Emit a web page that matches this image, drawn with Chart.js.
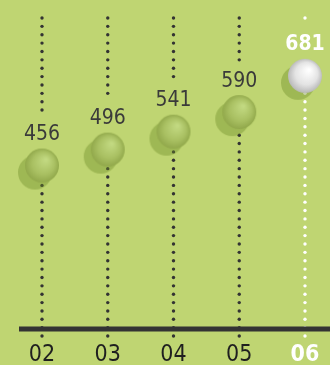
<!DOCTYPE html>
<html>
<head>
<meta charset="utf-8">
<script src="https://cdn.jsdelivr.net/npm/chart.js@4/dist/chart.umd.min.js"></script>
<style>
	html, body { margin: 0; padding: 0; background: #bfd572; }
	#wrap { width: 330px; height: 365px; position: relative; }
</style>
</head>
<body>
<div id="wrap"><canvas id="chartPreview"></canvas></div>
<script>
	const categories = ['02', '03', '04', '05', '06'];
	const values = [456, 496, 541, 590, 681];
	const yRange = [46, 826];
	const highlight = categories.length - 1;

	const FONT = "'DejaVu Sans Condensed', 'DejaVu Sans', sans-serif";

	// sphere with a soft shadow down-left, used as point image
	const makeBall = function (light, mid, dark) {
		const c = document.createElement('canvas');
		c.width = 56;
		c.height = 56;
		const g = c.getContext('2d');
		g.fillStyle = 'rgba(110, 140, 40, 0.4)';
		g.beginPath();
		g.arc(21, 35, 17, 0, Math.PI * 2);
		g.fill();
		const grad = g.createRadialGradient(32, 22, 1, 28, 28, 18);
		grad.addColorStop(0, light);
		grad.addColorStop(0.6, mid);
		grad.addColorStop(1, dark);
		g.fillStyle = grad;
		g.beginPath();
		g.arc(28, 28, 17, 0, Math.PI * 2);
		g.fill();
		return c;
	};

	const greenBall = makeBall('#c2d981', '#a9c062', '#8ea548');
	const whiteBall = makeBall('#ffffff', '#e4e4e4', '#b4b4b4');

	const columnDots = {
		id: 'columnDots',
		beforeDatasetsDraw(chart) {
			const ctx = chart.ctx;
			const x = chart.scales.x;
			const y = chart.scales.y;
			const top = chart.chartArea.top;
			const bottom = chart.chartArea.bottom + 8;
			const step = 8.37;
			ctx.save();
			values.forEach(function (v, i) {
				const px = x.getPixelForValue(i);
				const py = y.getPixelForValue(v);
				const gapTop = py - 32 - 17.5;
				ctx.fillStyle = i === highlight ? '#ffffff' : '#333333';
				for (let k = 0; top + k * step <= bottom + 0.5; k++) {
					const dy = top + k * step;
					if (dy > gapTop && dy < py) continue;
					ctx.beginPath();
					ctx.arc(px, dy, 1.7, 0, Math.PI * 2);
					ctx.fill();
				}
			});
			// base line
			ctx.fillStyle = '#333333';
			ctx.fillRect(19, chart.chartArea.bottom - 2.5, chart.width - 19, 5);
			ctx.restore();
		},
		afterDatasetsDraw(chart) {
			const ctx = chart.ctx;
			const meta = chart.getDatasetMeta(0);
			ctx.save();
			ctx.textAlign = 'center';
			ctx.textBaseline = 'middle';
			meta.data.forEach(function (pt, i) {
				ctx.font = (i === highlight ? 'bold ' : '') + '21px ' + FONT;
				ctx.fillStyle = i === highlight ? '#ffffff' : '#3a3a3a';
				ctx.fillText(String(values[i]), pt.x, pt.y - 31);
			});
			ctx.restore();
		}
	};

	new Chart(document.getElementById('chartPreview'), {
		type: 'line',
		data: {
			labels: categories,
			datasets: [{
				data: values,
				showLine: false,
				pointStyle: function (c) { return c.dataIndex === highlight ? whiteBall : greenBall; },
				pointRadius: 17,
				pointHoverRadius: 17,
				clip: false
			}]
		},
		options: {
			responsive: true,
			maintainAspectRatio: false,
			animation: false,
			events: [],
			layout: { padding: { left: 42, right: 25, top: 17, bottom: 0 } },
			plugins: { legend: { display: false }, tooltip: { enabled: false } },
			scales: {
				x: {
					type: 'category',
					offset: false,
					grid: { display: false, drawTicks: false },
					border: { display: false },
					afterFit: function (scale) {
						scale.height = 36;
						scale.paddingLeft = 0;
						scale.paddingRight = 0;
					},
					ticks: {
						autoSkip: false,
						maxRotation: 0,
						padding: 15,
						color: function (c) { return c.index === highlight ? '#ffffff' : '#1f1f1f'; },
						font: function (c) {
							return { family: FONT, size: 23, lineHeight: 1, weight: c.index === highlight ? 'bold' : 'normal' };
						}
					}
				},
				y: {
					display: false,
					min: yRange[0],
					max: yRange[1]
				}
			}
		},
		plugins: [columnDots]
	});
</script>
</body>
</html>
